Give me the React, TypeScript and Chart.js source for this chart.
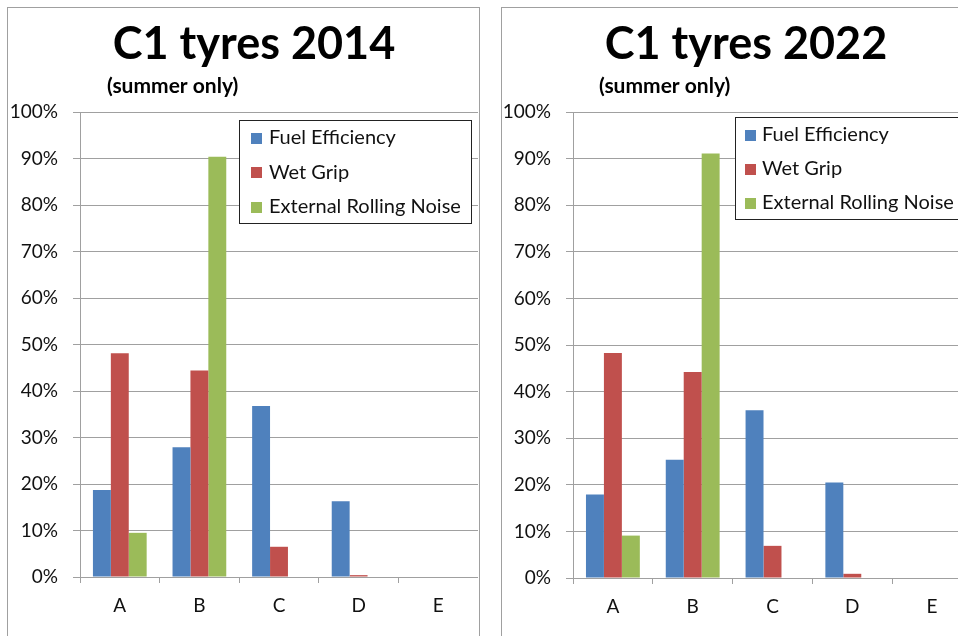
import React, { useEffect, useRef } from "react";
import { Chart, registerables } from "chart.js";

Chart.register(...registerables);

const CATEGORIES = ["A", "B", "C", "D", "E"];
const SERIES_LABELS = ["Fuel Efficiency", "Wet Grip", "External Rolling Noise"];
const SERIES_COLORS = ["#4f81bd", "#c0504d", "#9bbb59"];

const FUEL_2014 = [18.7, 27.9, 36.8, 16.3, 0];
const WET_2014 = [48.1, 44.4, 6.5, 0.4, 0];
const NOISE_2014 = [9.5, 90.4, 0, 0, 0];

const FUEL_2022 = [17.9, 25.4, 36.0, 20.5, 0];
const WET_2022 = [48.3, 44.2, 6.9, 0.9, 0];
const NOISE_2022 = [9.1, 91.1, 0, 0, 0];

const Y_MIN = 0;
const Y_MAX = 100;
const Y_STEP = 10;

const FONT = "Lato, 'Liberation Sans', sans-serif";
const GRID = "#a0a0a0";

const boxLegend = {
  id: "boxLegend",
  afterDatasetsDraw(chart: any, _args: any, o: any) {
    const { ctx, chartArea } = chart;
    const x = Math.round(chartArea.left + o.dx);
    const y = Math.round(chartArea.top + o.dy);
    ctx.save();
    ctx.fillStyle = "#fff";
    ctx.fillRect(x, y, o.w, o.h);
    ctx.strokeStyle = "#222";
    ctx.lineWidth = 1;
    ctx.strokeRect(x + 0.5, y + 0.5, o.w, o.h);
    ctx.font = `20px ${FONT}`;
    ctx.textBaseline = "middle";
    ctx.textAlign = "left";
    chart.data.datasets.forEach((ds: any, i: number) => {
      const cy = y + o.firstRow + i * o.rowGap;
      ctx.fillStyle = ds.backgroundColor;
      ctx.fillRect(x + o.swatchX, Math.round(cy - 5.5), 11, 11);
      ctx.fillStyle = "#111";
      ctx.fillText(ds.label, x + o.textX, cy);
    });
    ctx.restore();
  },
};

const panelTitle = {
  id: "panelTitle",
  afterDraw(chart: any, _args: any, o: any) {
    const { ctx } = chart;
    ctx.save();
    ctx.fillStyle = "#000";
    ctx.textBaseline = "alphabetic";
    ctx.font = `bold 45px ${FONT}`;
    ctx.textAlign = "center";
    ctx.fillText(o.title, o.titleX, o.titleY);
    ctx.font = `bold 21px ${FONT}`;
    ctx.textAlign = "left";
    ctx.fillText(o.sub, o.subX, o.subY);
    ctx.restore();
  },
};

type PanelProps = {
  left: number;
  top: number;
  width: number;
  height: number;
  yWidth: number;
  padBottom: number;
  padTop: number;
  fuel: number[];
  wet: number[];
  noise: number[];
  title: string;
  titleX: number;
  subX: number;
  legend: any;
};

function Panel(p: PanelProps) {
  const ref = useRef<HTMLCanvasElement | null>(null);
  useEffect(() => {
    if (!ref.current) return;
    const series = [p.fuel, p.wet, p.noise];
    const chart = new Chart(ref.current, {
      type: "bar",
      data: {
        labels: CATEGORIES,
        datasets: series.map((d, i) => ({
          label: SERIES_LABELS[i],
          data: d,
          backgroundColor: SERIES_COLORS[i],
          borderWidth: 0,
          categoryPercentage: 0.675,
          barPercentage: 1.0,
        })),
      },
      options: {
        responsive: false,
        animation: false,
        devicePixelRatio: 1,
        layout: { padding: { top: p.padTop, left: 0, right: 0, bottom: p.padBottom } },
        plugins: {
          legend: { display: false },
          tooltip: { enabled: false },
          title: { display: false },
          boxLegend: p.legend,
          panelTitle: {
            title: p.title,
            titleX: p.titleX,
            titleY: 51,
            sub: "(summer only)",
            subX: p.subX,
            subY: 85,
          },
        } as any,
        scales: {
          x: {
            type: "category",
            grid: {
              drawOnChartArea: false,
              drawTicks: true,
              tickLength: 6,
              color: GRID,
              offset: true,
            },
            border: { display: false },
            ticks: { font: { family: FONT, size: 19 }, color: "#111", padding: 11 },
            afterFit: (s: any) => {
              s.height = 40;
            },
          },
          y: {
            min: Y_MIN,
            max: Y_MAX,
            grid: { color: GRID, tickLength: 7, lineWidth: 1 },
            border: { display: true, color: GRID },
            ticks: {
              stepSize: Y_STEP,
              font: { family: FONT, size: 19 },
              color: "#111",
              padding: 15,
              callback: (v: any) => `${v}%`,
            },
            afterFit: (s: any) => {
              s.width = p.yWidth;
            },
          },
        },
      },
      plugins: [boxLegend, panelTitle],
    });
    return () => chart.destroy();
  }, []);
  return (
    <canvas
      ref={ref}
      width={p.width}
      height={p.height}
      style={{ position: "absolute", left: p.left, top: p.top, width: p.width, height: p.height }}
    />
  );
}

export default function App() {
  return (
    <div
      style={{
        position: "fixed",
        left: 0,
        top: 0,
        width: 958,
        height: 636,
        overflow: "hidden",
        background: "#fff",
      }}
    >
      <div
        style={{
          position: "absolute",
          left: 7,
          top: 7,
          width: 473,
          height: 700,
          border: `1px solid ${GRID}`,
          boxSizing: "border-box",
        }}
      />
      <div
        style={{
          position: "absolute",
          left: 501,
          top: 7,
          width: 600,
          height: 700,
          border: `1px solid ${GRID}`,
          boxSizing: "border-box",
        }}
      />
      <Panel
        left={8}
        top={8}
        width={470}
        height={628}
        yWidth={72}
        padTop={104}
        padBottom={19}
        fuel={FUEL_2014}
        wet={WET_2014}
        noise={NOISE_2014}
        title="C1 tyres 2014"
        titleX={246}
        subX={99}
        legend={{ dx: 159, dy: 8, w: 232, h: 103, swatchX: 12, textX: 30, firstRow: 18, rowGap: 34.5 }}
      />
      <Panel
        left={502}
        top={8}
        width={470}
        height={628}
        yWidth={71}
        padTop={104}
        padBottom={18}
        fuel={FUEL_2022}
        wet={WET_2022}
        noise={NOISE_2022}
        title="C1 tyres 2022"
        titleX={244}
        subX={97}
        legend={{ dx: 162, dy: 5, w: 232, h: 102, swatchX: 10, textX: 27, firstRow: 18, rowGap: 34 }}
      />
    </div>
  );
}
